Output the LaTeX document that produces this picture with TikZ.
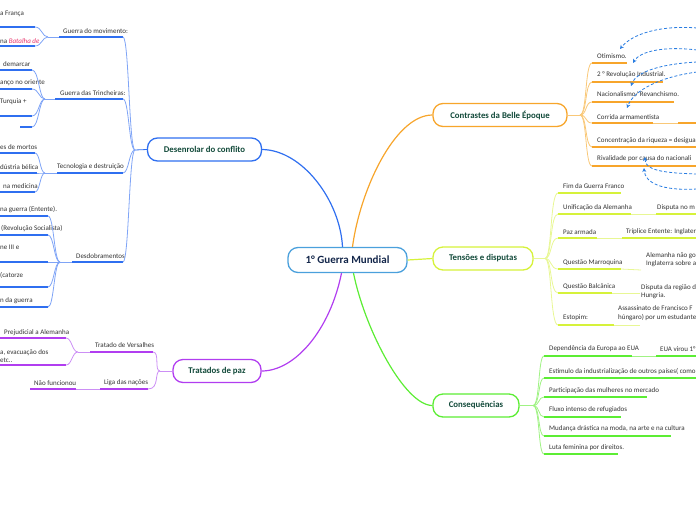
\documentclass[tikz,border=0pt]{standalone}
\usepackage{fontspec}
\setmainfont{Carlito}
\usetikzlibrary{arrows.meta,calc}
\definecolor{cB}{HTML}{2F6FF0}
\definecolor{cBl}{HTML}{7FA4F6}
\definecolor{cRoot}{HTML}{4AA0DC}
\definecolor{cO}{HTML}{F7A52B}
\definecolor{cOl}{HTML}{F9C878}
\definecolor{cY}{HTML}{D6F23A}
\definecolor{cYl}{HTML}{E8F794}
\definecolor{cG}{HTML}{5CED34}
\definecolor{cGl}{HTML}{A0F284}
\definecolor{cP}{HTML}{B13DF0}
\definecolor{cPl}{HTML}{CC8FF5}
\definecolor{cDash}{HTML}{2A7DE1}
\definecolor{topictxt}{HTML}{124A3A}
\definecolor{roottxt}{HTML}{13264A}
\definecolor{txt}{HTML}{333333}
\definecolor{pink}{HTML}{E8336B}
\tikzset{
  topic/.style={draw, rounded corners=10pt, line width=1.3pt, fill=white, inner sep=0pt,
    font=\bfseries\fontsize{8.8}{10}\selectfont, text=topictxt, minimum height=23pt},
  lbl/.style={font=\fontsize{7}{8.5}\selectfont, text=txt, anchor=west, inner sep=0pt, align=left},
  ul/.style={line width=1.8pt},
  thin/.style={line width=0.8pt},
  mainconn/.style={line width=1.2pt},
  rel/.style={cDash, line width=0.8pt, dash pattern=on 3pt off 2pt, -{Stealth[length=4pt,width=4pt]}}
}
\newcommand{\uln}[5]{\coordinate (#1L) at (#2,#4); \coordinate (#1R) at (#3,#4); \draw[ul,#5] (#1L) -- (#1R);}
\begin{document}
\begin{tikzpicture}[x=1pt,y=-1pt]
\useasboundingbox (0,0) rectangle (696,520);
\clip (0,0) rectangle (696,520);

% ---------- main nodes ----------
\node[topic, draw=cRoot, minimum width=119pt, minimum height=25pt, text=roottxt,
  font=\bfseries\fontsize{11}{12}\selectfont] (root) at (347.5,260) {1° Guerra Mundial};
\node[topic, draw=cB, minimum width=114pt] (des) at (204.5,149.5) {Desenrolar do conflito};
\node[topic, draw=cO, minimum width=134pt] (con) at (500,115) {Contrastes da Belle Époque};
\node[topic, draw=cY, minimum width=100pt] (ten) at (483,258.5) {Tensões e disputas};
\node[topic, draw=cG, minimum width=86pt] (cons) at (476,405.5) {Consequências};
\node[topic, draw=cP, minimum width=88pt] (tra) at (217,371) {Tratados de paz};

% ---------- main connectors ----------
\draw[mainconn, cB] ($(root.north)+(-5,0)$) .. controls (340,200) and (302,150) .. (des.east);
\draw[mainconn, cO] ($(root.north)+(5,0)$) .. controls (360,190) and (395,115) .. (con.west);
\draw[mainconn, cY] (root.east) -- (ten.west);
\draw[mainconn, cG] ($(root.south)+(6,0)$) .. controls (365,330) and (405,405.5) .. (cons.west);
\draw[mainconn, cP] ($(root.south)+(-6,0)$) .. controls (330,330) and (295,371) .. (tra.east);

% ---------- Desenrolar do conflito ----------
\coordinate (dJ) at (135,150);
\draw[thin, cB] (des.west) -- (dJ);
\uln{d1}{59}{123}{37}{cB}
\uln{d2}{55}{123}{99}{cB}
\uln{d3}{57}{123}{173}{cB}
\uln{d4}{72}{123}{262}{cB}
\node[lbl] (d1T) at (63,31) {Guerra do movimento:};
\node[lbl] (d2T) at (60,93) {Guerra das Trincheiras:};
\node[lbl] (d3T) at (57,167) {Tecnologia e destruição};
\node[lbl] (d4T) at (76,256) {Desdobramentos};
\foreach \n/\y in {d1/37,d2/99,d3/173,d4/262}
  \draw[thin, cBl] (dJ) .. controls (129,150) and (129,\y) .. (\n R);

% grandchildren of d1
\coordinate (d1J) at (48,37);
\draw[thin, cBl] (d1L) -- (d1J);
\uln{g11}{0}{35}{27}{cB}
\uln{g12}{0}{35}{46}{cB}
\node[lbl] (g11T) at (0,14) {a França};
\node[lbl] (g12T) at (0,41) {na \textcolor{pink}{\itshape Batalha de}};
\foreach \n/\y in {g11/27,g12/46}
  \draw[thin, cBl] (d1J) .. controls (42,37) and (42,\y) .. (\n R);

% grandchildren of d2
\coordinate (d2J) at (45,99);
\draw[thin, cBl] (d2L) -- (d2J);
\uln{g21}{0}{32}{70}{cB}
\uln{g22}{0}{32}{89}{cB}
\uln{g23}{0}{32}{116}{cB}
\uln{g24}{20}{32}{127}{cB}
\node[lbl] (g21T) at (3,64) {demarcar};
\node[lbl] (g22T) at (0,83) {anço no oriente};
\node[lbl] (g23T) at (0,102) {Turquia +};
\foreach \n/\y in {g21/70,g22/89,g23/116,g24/127}
  \draw[thin, cBl] (d2J) .. controls (39,99) and (39,\y) .. (\n R);

% grandchildren of d3
\coordinate (d3J) at (45,173);
\draw[thin, cBl] (d3L) -- (d3J);
\uln{g31}{0}{35}{153}{cB}
\uln{g32}{0}{37}{173}{cB}
\uln{g33}{0}{35}{192}{cB}
\node[lbl] (g31T) at (0,147) {es de mortos};
\node[lbl] (g32T) at (0,167) {dústria bélica};
\node[lbl] (g33T) at (3,186) {na medicina};
\foreach \n/\y in {g31/153,g32/173,g33/192}
  \draw[thin, cBl] (d3J) .. controls (40,173) and (40,\y) .. (\n R);

% grandchildren of d4
\coordinate (d4J) at (60,262);
\draw[thin, cBl] (d4L) -- (d4J);
\uln{g41}{0}{48}{216}{cB}
\uln{g42}{0}{48}{235}{cB}
\uln{g43}{0}{48}{262}{cB}
\uln{g44}{0}{48}{287}{cB}
\uln{g45}{0}{48}{307}{cB}
\node[lbl] (g41T) at (0,210) {na guerra (Entente).};
\node[lbl] (g42T) at (1,229) {(Revolução Socialista)};
\node[lbl] (g43T) at (0,247) {ne III e};
\node[lbl] (g44T) at (0,275) {(catorze};
\node[lbl] (g45T) at (0,301) {n da guerra};
\foreach \n/\y in {g41/216,g42/235,g43/262,g44/287,g45/307}
  \draw[thin, cBl] (d4J) .. controls (54,262) and (54,\y) .. (\n R);

% ---------- Tratados de paz ----------
\coordinate (tJ) at (160,371);
\draw[thin, cPl] (tra.west) -- (tJ);
\uln{t1}{90}{153}{352}{cP}
\uln{t2}{100}{148}{389}{cP}
\node[lbl] (t1T) at (95,345) {Tratado de Versalhes};
\node[lbl] (t2T) at (104,383) {Liga das nações};
\foreach \n/\y in {t1/352,t2/389}
  \draw[thin, cPl] (tJ) .. controls (154,371) and (160,\y) .. (\n R);
\coordinate (t1J) at (78,352);
\draw[thin, cPl] (t1L) -- (t1J);
\uln{t11}{0}{66}{338}{cP}
\uln{t12}{0}{66}{365}{cP}
\node[lbl] (t11T) at (4,333) {Prejudicial a Alemanha};
\node[lbl] (t12T) at (0,356) {a, evacuação dos\\etc..};
\foreach \n/\y in {t11/338,t12/365}
  \draw[thin, cPl] (t1J) .. controls (72,352) and (72,\y) .. (\n R);
\uln{t21}{30}{76}{389}{cP}
\node[lbl] (t21T) at (34,383) {Não funcionou};
\draw[thin, cPl] (t21R) -- (t2L);

% ---------- Contrastes da Belle Époque ----------
\coordinate (cJ) at (580,115);
\draw[thin, cOl] (con.east) -- (cJ);
\uln{c1}{592}{627}{63}{cO}
\uln{c2}{592}{663}{82}{cO}
\uln{c3}{592}{674}{102}{cO}
\uln{c4}{592}{653}{123}{cO}
\uln{c5}{592}{696}{147}{cO}
\uln{c6}{592}{696}{166}{cO}
\node[lbl] (c1T) at (597,56) {Otimismo.};
\node[lbl] (c2T) at (597,75) {2 ° Revolução Industrial.};
\node[lbl] (c3T) at (597,94) {Nacionalismo/ Revanchismo.};
\node[lbl] (c4T) at (597,117) {Corrida armamentista};
\node[lbl] (c5T) at (597,141) {Concentração da riqueza = desigua};
\node[lbl] (c6T) at (597,159) {Rivalidade por causa do nacionali};
\foreach \n/\y in {c1/63,c2/82,c3/102,c4/123,c5/147,c6/166}
  \draw[thin, cOl] (cJ) .. controls (587,115) and (585,\y) .. (\n L);
\uln{c41}{678}{696}{123}{cO}
\draw[thin, cOl] (c4R) -- (c41L);

% relationship arrows
\coordinate (r1s) at (697,28);  \coordinate (r1e) at (620,49);
\coordinate (r2s) at (697,50);  \coordinate (r2e) at (633,63);
\coordinate (r3s) at (697,62);  \coordinate (r3e) at (631,86);
\coordinate (r4s) at (697,72);  \coordinate (r4e) at (627,108);
\coordinate (r5s) at (697,174); \coordinate (r5e) at (645,157);
\coordinate (r6s) at (697,189); \coordinate (r6e) at (644,168);
\draw[rel] (r1s) .. controls (660,25) and (632,34) .. (r1e);
\draw[rel] (r2s) .. controls (665,46) and (640,51) .. (r2e);
\draw[rel] (r3s) .. controls (660,64) and (636,72) .. (r3e);
\draw[rel] (r4s) .. controls (660,77) and (634,90) .. (r4e);
\draw[rel] (r5s) .. controls (662,173) and (645,170) .. (r5e);
\draw[rel] (r6s) .. controls (662,191) and (645,183) .. (r6e);

% ---------- Tensões e disputas ----------
\coordinate (eJ) at (545,258.5);
\draw[thin, cYl] (ten.east) -- (eJ);
\uln{e1}{558}{621}{193}{cY}
\uln{e2}{558}{631}{214}{cY}
\uln{e3}{558}{597}{238}{cY}
\uln{e4}{558}{621}{269}{cY}
\uln{e5}{558}{612}{293}{cY}
\uln{e6}{558}{614}{325}{cY}
\node[lbl] (e1T) at (563,186) {Fim da Guerra Franco};
\node[lbl] (e2T) at (563,208) {Unificação da Alemanha};
\node[lbl] (e3T) at (563,232) {Paz armada};
\node[lbl] (e4T) at (563,263) {Questão Marroquina};
\node[lbl] (e5T) at (563,287) {Questão Balcânica};
\node[lbl] (e6T) at (563,318) {Estopim:};
\foreach \n/\y in {e1/193,e2/214,e3/238,e4/269,e5/293,e6/325}
  \draw[thin, cYl] (eJ) .. controls (552,258.5) and (550,\y) .. (\n L);
\uln{e21}{656}{696}{214}{cY}
\draw[thin, cYl] (e2R) -- (e21L);
\node[lbl] (e21T) at (657,208) {Disputa no m};
\uln{e31}{622}{696}{238}{cY}
\draw[thin, cYl] (e3R) -- (e31L);
\node[lbl] (e31T) at (626,232) {Tríplice Entente: Inglater};
\coordinate (e41L) at (641,270);
\draw[thin, cYl] (e4R) -- (e41L);
\node[lbl] (e41T) at (646,259.5) {Alemanha não go\\Inglaterra sobre a};
\coordinate (e51L) at (640,293);
\draw[thin, cYl] (e5R) -- (e51L);
\node[lbl] (e51T) at (641,291.5) {Disputa da região d\\Hungria.};
\coordinate (e61L) at (640,325);
\draw[thin, cYl] (e6R) -- (e61L);
\node[lbl] (e61T) at (618,313) {Assassinato de Francisco F\\húngaro) por um estudante};

% ---------- Consequências ----------
\coordinate (qJ) at (533,405.5);
\draw[thin, cGl] (cons.east) -- (qJ);
\uln{q1}{544}{632}{356}{cG}
\uln{q2}{544}{696}{378}{cG}
\uln{q3}{544}{647}{397}{cG}
\uln{q4}{544}{621}{417}{cG}
\uln{q5}{544}{671}{436}{cG}
\uln{q6}{544}{618}{454}{cG}
\node[lbl] (q1T) at (549,349) {Dependência da Europa ao EUA};
\node[lbl] (q2T) at (549,372) {Estímulo da industrialização de outros países( como};
\node[lbl] (q3T) at (549,391) {Participação das mulheres no mercado};
\node[lbl] (q4T) at (549,410) {Fluxo intenso de refugiados};
\node[lbl] (q5T) at (549,429) {Mudança drástica na moda, na arte e na cultura};
\node[lbl] (q6T) at (549,448) {Luta feminina por direitos.};
\foreach \n/\y in {q1/356,q2/378,q3/397,q4/417,q5/436,q6/454}
  \draw[thin, cGl] (qJ) .. controls (540,405.5) and (538,\y) .. (\n L);
\uln{q11}{656}{696}{356}{cG}
\draw[thin, cGl] (q1R) -- (q11L);
\node[lbl] (q11T) at (660,349) {EUA virou 1°};
\end{tikzpicture}
\end{document}
